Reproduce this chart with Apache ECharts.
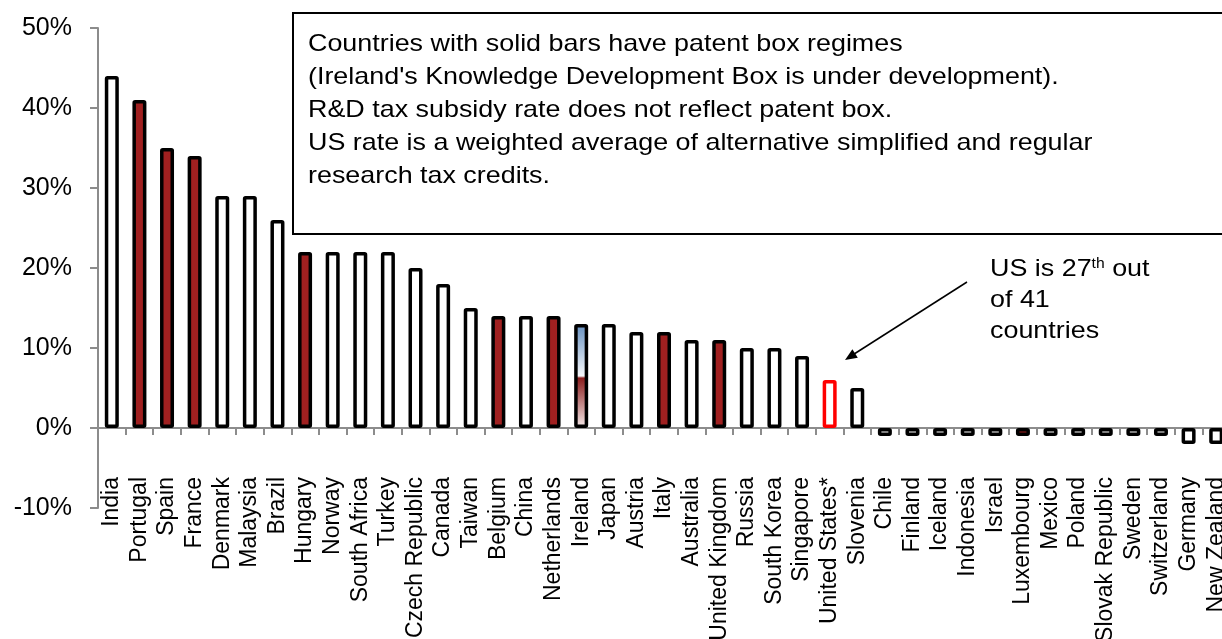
<!DOCTYPE html>
<html>
<head>
<meta charset="utf-8">
<title>R&amp;D tax subsidy rates</title>
<script src="https://cdn.jsdelivr.net/npm/echarts@6/dist/echarts.min.js"></script>
<style>
  html, body { margin: 0; padding: 0; background: #fff; }
  #chart { width: 1222px; height: 639px; }
</style>
</head>
<body>
<div id="chart"></div>
<script>
// R&D tax subsidy rate by country (percent)
const categories = ['India', 'Portugal', 'Spain', 'France', 'Denmark', 'Malaysia', 'Brazil',
  'Hungary', 'Norway', 'South Africa', 'Turkey', 'Czech Republic', 'Canada', 'Taiwan',
  'Belgium', 'China', 'Netherlands', 'Ireland', 'Japan', 'Austria', 'Italy', 'Australia',
  'United Kingdom', 'Russia', 'South Korea', 'Singapore', 'United States*', 'Slovenia',
  'Chile', 'Finland', 'Iceland', 'Indonesia', 'Israel', 'Luxembourg', 'Mexico', 'Poland',
  'Slovak Republic', 'Sweden', 'Switzerland', 'Germany', 'New Zealand'];

const subsidyRates = [44, 41, 35, 34, 29, 29, 26, 22, 22, 22, 22, 20, 18, 15, 14, 14, 14, 13,
  13, 12, 12, 11, 11, 10, 10, 9, 6, 5, -1, -1, -1, -1, -1, -1, -1, -1, -1, -1, -1, -2, -2];

// Countries that have a patent box regime
const patentBoxCountries = ['Portugal', 'Spain', 'France', 'Hungary', 'Belgium', 'Netherlands',
  'Italy', 'United Kingdom', 'Luxembourg'];
// Patent box still being developed
const patentBoxPending = ['Ireland'];
// Highlighted country
const highlighted = ['United States*'];

const yTicks = { min: -10, max: 50, step: 10 };

const noteLines = [
  'Countries with solid bars have patent box regimes',
  "(Ireland's Knowledge Development Box is under development).",
  'R&D tax subsidy rate does not reflect patent box.',
  'US rate is a weighted average of alternative simplified and regular',
  'research tax credits.'
];

const FONT = '"Liberation Sans", Arial, Helvetica, sans-serif';
const RED = '#A02020';

function styleFor(name) {
  const base = { borderColor: '#000', borderWidth: 3.5, color: '#fff', borderRadius: 1 };
  if (patentBoxCountries.includes(name)) base.color = RED;
  if (patentBoxPending.includes(name)) {
    base.color = new echarts.graphic.LinearGradient(0, 0, 0, 1, [
      { offset: 0, color: '#6690c0' },
      { offset: 0.5, color: '#f6f8fb' },
      { offset: 0.52, color: '#8a1d1d' },
      { offset: 1, color: '#f7ecec' }
    ]);
  }
  if (highlighted.includes(name)) base.borderColor = '#ff0000';
  return base;
}

const barData = subsidyRates.map((v, i) => ({ value: v, itemStyle: styleFor(categories[i]) }));

// Arrow from the callout toward the highlighted bar
const arrowFrom = [967, 282];
const arrowTo = [845, 360];
function arrowHead(from, to, len, half) {
  const dx = to[0] - from[0], dy = to[1] - from[1];
  const d = Math.hypot(dx, dy), ux = dx / d, uy = dy / d;
  const bx = to[0] - ux * len, by = to[1] - uy * len;
  return [to, [bx - uy * half, by + ux * half], [bx + uy * half, by - ux * half]];
}

const chart = echarts.init(document.getElementById('chart'), null, { renderer: 'canvas' });

chart.setOption({
  animation: false,
  backgroundColor: '#fff',
  grid: { left: 98, top: 28, bottom: 131, right: -8, containLabel: false, outerBoundsMode: 'none' },
  xAxis: {
    type: 'category',
    data: categories,
    axisLine: { onZero: true, lineStyle: { color: '#8c8c8c', width: 2 } },
    axisTick: { show: true, alignWithLabel: false, interval: 0, length: 7,
      lineStyle: { color: '#8c8c8c', width: 2 } },
    // category names hang just above the bottom of the plot area
    axisLabel: { interval: 0, rotate: 90, margin: -31, fontSize: 23, color: '#000',
      fontFamily: FONT, hideOverlap: false },
    splitLine: { show: false }
  },
  yAxis: {
    type: 'value',
    min: yTicks.min,
    max: yTicks.max,
    interval: yTicks.step,
    axisLine: { show: true, lineStyle: { color: '#8c8c8c', width: 2 } },
    axisTick: { show: true, length: 8, lineStyle: { color: '#8c8c8c', width: 2 } },
    axisLabel: { formatter: '{value}%', fontSize: 25, color: '#000', margin: 26, fontFamily: FONT },
    splitLine: { show: false }
  },
  series: [{
    type: 'bar',
    data: barData,
    barWidth: 14,
    z: 3
  }],
  graphic: [
    {
      type: 'rect',
      shape: { x: 293, y: 13, width: 1000, height: 221 },
      style: { fill: '#fff', stroke: '#000', lineWidth: 2 },
      z: 10
    },
    {
      type: 'text',
      x: 308, y: 28, scaleX: 1.12,
      style: { text: noteLines.join('\n'), font: '24px ' + FONT, fill: '#000',
        lineHeight: 33, verticalAlign: 'top' },
      z: 11
    },
    {
      type: 'text',
      x: 990, y: 254, scaleX: 1.12,
      style: {
        text: '{a|US is 27}{s|th}{a| out}\n{a|of 41}\n{a|countries}',
        rich: {
          a: { font: '24px ' + FONT, fill: '#000', lineHeight: 31 },
          s: { font: '14px ' + FONT, fill: '#000', lineHeight: 31, verticalAlign: 'top', padding: [3, 0, 0, 0] }
        },
        verticalAlign: 'top'
      },
      z: 11
    },
    {
      type: 'line',
      shape: { x1: arrowFrom[0], y1: arrowFrom[1], x2: arrowTo[0] + 6, y2: arrowTo[1] - 4 },
      style: { stroke: '#000', lineWidth: 1.5 },
      z: 11
    },
    {
      type: 'polygon',
      shape: { points: arrowHead(arrowFrom, arrowTo, 12, 5) },
      style: { fill: '#000' },
      z: 11
    }
  ]
});
</script>
</body>
</html>
